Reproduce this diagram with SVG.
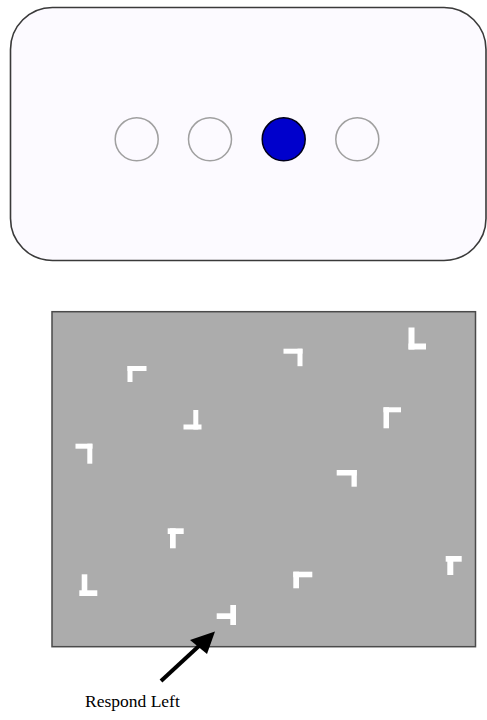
<svg xmlns="http://www.w3.org/2000/svg" width="487" height="720" viewBox="0 0 487 720">
<style>
.panel{fill:#fcfaff;stroke:#3a3a3a;stroke-width:1.6}
.dot{fill:#fcfaff;stroke:#a0a0a0;stroke-width:1.5}
.on{fill:#0000cc;stroke:#00001a;stroke-width:1.5}
.field{fill:#acacac;stroke:#4a4a4a;stroke-width:1.5}
.g{fill:#ffffff}
.lbl{font-family:"Liberation Serif","Times New Roman",serif;font-size:17.5px;fill:#000}
</style>
<rect fill="#ffffff" x="0" y="0" width="487" height="720"/>
<g id="cue-panel">
<rect class="panel" x="10.5" y="7.5" width="475.5" height="253" rx="42" ry="42"/>
<circle class="dot" cx="136.7" cy="139.3" r="21.5"/>
<circle class="dot" cx="210" cy="139.3" r="21.5"/>
<circle class="on" cx="283.7" cy="139.3" r="21.5"/>
<circle class="dot" cx="357.3" cy="139.3" r="21.5"/>
</g>
<g id="search-display">
<rect class="field" x="52" y="311.7" width="423.5" height="335"/>
<g id="item1"><rect class="g" x="127.5" y="366" width="19" height="5"/><rect class="g" x="127.5" y="366" width="5" height="16"/></g>
<g id="item2"><rect class="g" x="183.5" y="424.5" width="18" height="5"/><rect class="g" x="193.3" y="410" width="5" height="19.5"/></g>
<g id="item3"><rect class="g" x="75.5" y="443.7" width="17" height="5"/><rect class="g" x="87.3" y="443.7" width="5" height="20"/></g>
<g id="item4"><rect class="g" x="283.5" y="348.7" width="19" height="5"/><rect class="g" x="297.5" y="348.7" width="5" height="17.5"/></g>
<g id="item5"><rect class="g" x="408.5" y="327.5" width="6" height="22"/><rect class="g" x="408.5" y="343.5" width="17.5" height="6"/></g>
<g id="item6"><rect class="g" x="383.5" y="407.3" width="17.5" height="5"/><rect class="g" x="383.5" y="407.3" width="5.5" height="21"/></g>
<g id="item7"><rect class="g" x="336.7" y="470" width="20" height="5.5"/><rect class="g" x="351.5" y="470" width="5.3" height="16.7"/></g>
<g id="item8"><rect class="g" x="167.7" y="528.3" width="16" height="5.7"/><rect class="g" x="170" y="528.3" width="5.7" height="20"/></g>
<g id="item9"><rect class="g" x="81.7" y="574.3" width="5.6" height="21.7"/><rect class="g" x="79.3" y="590.3" width="18" height="5.7"/></g>
<g id="target"><rect class="g" x="216.7" y="613.3" width="15" height="5.7"/><rect class="g" x="230.3" y="605" width="5.7" height="20"/></g>
<g id="item11"><rect class="g" x="293.3" y="571.7" width="19" height="5.6"/><rect class="g" x="293.3" y="571.7" width="5.7" height="16.6"/></g>
<g id="item12"><rect class="g" x="445.7" y="556" width="16" height="5.7"/><rect class="g" x="447.3" y="556" width="6" height="19"/></g>
</g>
<g id="connectors">
<line x1="161" y1="681" x2="200" y2="645" stroke="#000" stroke-width="4"/>
<polygon points="190,640 215,631.5 207,654" fill="#000"/>
</g>
<g id="label">
<text class="lbl" x="85" y="707">Respond Left</text>
</g>
</svg>
